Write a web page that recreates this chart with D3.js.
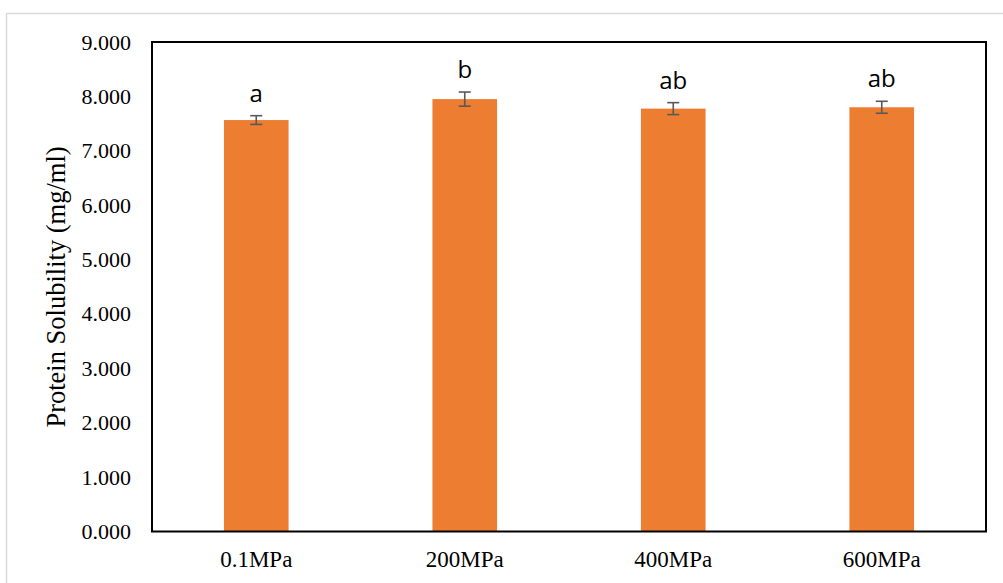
<!DOCTYPE html>
<html>
<head>
<meta charset="utf-8">
<script src="https://cdn.jsdelivr.net/npm/d3@7/dist/d3.min.js"></script>
<style>
  html, body { margin: 0; padding: 0; background: #fff; }
  svg { display: block; }
</style>
</head>
<body>
<svg id="chart" width="1003" height="583"></svg>
<script>
// Protein solubility by pressure treatment
const categories = ["0.1MPa", "200MPa", "400MPa", "600MPa"];
const means = [7.565, 7.95, 7.775, 7.80];
const errors = [0.08, 0.13, 0.11, 0.11];
const letters = ["a", "b", "ab", "ab"];
const yTicks = [0, 1, 2, 3, 4, 5, 6, 7, 8, 9];

const svg = d3.select("#chart");
const W = 1003, H = 583;
const m = { left: 152, top: 42, right: 986, bottom: 531.5 };
const serif = "'Liberation Serif', 'Times New Roman', serif";

// outer chart-area frame
svg.append("path")
  .attr("d", `M6.5,${H} L6.5,13.5 L${W},13.5`)
  .attr("fill", "none")
  .attr("stroke", "#d9d9d9")
  .attr("stroke-width", 1.5);

const x = d3.scaleBand()
  .domain(categories)
  .range([m.left, m.right])
  .paddingInner(0.69)
  .paddingOuter(0.345);

const y = d3.scaleLinear().domain([0, 9]).range([m.bottom, m.top]);

// bars
svg.append("g").selectAll("rect")
  .data(categories)
  .join("rect")
  .attr("x", d => x(d))
  .attr("width", x.bandwidth())
  .attr("y", (d, i) => y(means[i]))
  .attr("height", (d, i) => y(0) - y(means[i]))
  .attr("fill", "#ED7D31");

// error bars
const eb = svg.append("g").attr("stroke", "#595959").attr("stroke-width", 1.6).attr("fill", "none");
categories.forEach((c, i) => {
  const cx = x(c) + x.bandwidth() / 2;
  const y1 = y(means[i] + errors[i]), y0 = y(means[i] - errors[i]);
  eb.append("line").attr("x1", cx).attr("x2", cx).attr("y1", y1).attr("y2", y0);
  eb.append("line").attr("x1", cx - 6).attr("x2", cx + 6).attr("y1", y1).attr("y2", y1);
  eb.append("line").attr("x1", cx - 6).attr("x2", cx + 6).attr("y1", y0).attr("y2", y0);
});

// significance letters
svg.append("g").selectAll("text")
  .data(categories)
  .join("text")
  .attr("x", d => x(d) + x.bandwidth() / 2)
  .attr("y", (d, i) => y(means[i] + errors[i]) - 14)
  .attr("text-anchor", "middle")
  .style("font-family", "'Open Sans', 'Liberation Sans', sans-serif")
  .style("font-size", "24px")
  .attr("fill", "#000")
  .text((d, i) => letters[i]);

// plot frame
svg.append("rect")
  .attr("x", m.left).attr("y", m.top)
  .attr("width", m.right - m.left).attr("height", m.bottom - m.top)
  .attr("fill", "none").attr("stroke", "#000").attr("stroke-width", 2);

// y axis labels
const yAxis = d3.axisLeft(y).tickValues(yTicks).tickSize(0).tickPadding(21)
  .tickFormat(d3.format(".3f"));
const ga = svg.append("g").attr("transform", `translate(${m.left},0)`).call(yAxis);
ga.select(".domain").remove();
ga.selectAll("text")
  .style("font-family", serif)
  .style("font-size", "22px").attr("fill", "#000");

// x axis labels
const xAxis = d3.axisBottom(x).tickSize(0).tickPadding(19);
const gx = svg.append("g").attr("transform", `translate(0,${m.bottom})`).call(xAxis);
gx.select(".domain").remove();
gx.selectAll("text")
  .style("font-family", serif)
  .style("font-size", "23px").attr("fill", "#000");

// y axis title
svg.append("text")
  .attr("transform", `translate(65,287) rotate(-90)`)
  .attr("text-anchor", "middle")
  .style("font-family", serif)
  .style("font-size", "26.5px").attr("fill", "#000")
  .text("Protein Solubility (mg/ml)");
</script>
</body>
</html>
